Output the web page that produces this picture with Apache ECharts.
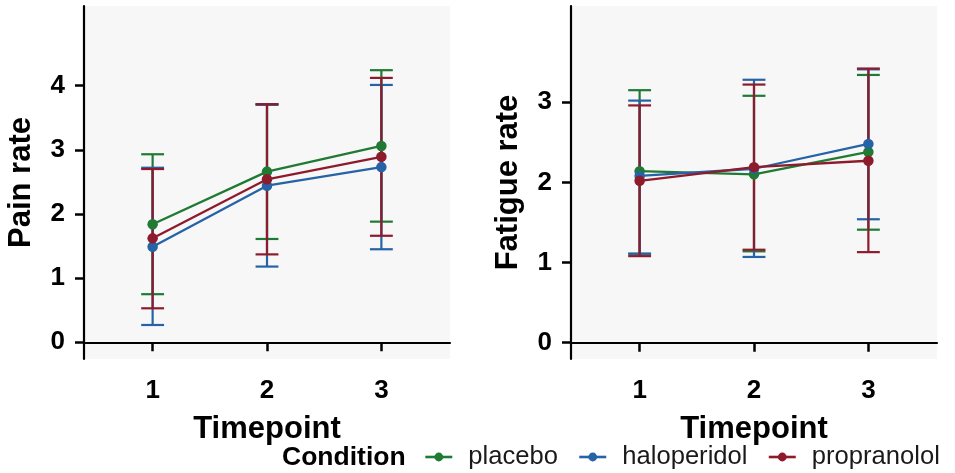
<!DOCTYPE html>
<html>
<head>
<meta charset="utf-8">
<style>
  html, body { margin: 0; padding: 0; background: #ffffff; }
  #chart { width: 955px; height: 473px; }
</style>
<script src="https://cdn.jsdelivr.net/npm/echarts@6/dist/echarts.min.js"></script>
</head>
<body>
<div id="chart"></div>
<script>
// Timepoints shared by both panels
const timepoints = [1, 2, 3];
const conditions = ['placebo', 'haloperidol', 'propranolol'];

// Pain rate: means and error bar ends per condition
const painPlaceboMean = [1.84, 2.66, 3.06];
const painPlaceboLow  = [0.75, 1.61, 1.88];
const painPlaceboHigh = [2.93, 3.71, 4.24];
const painHaloMean = [1.49, 2.44, 2.73];
const painHaloLow  = [0.27, 1.18, 1.45];
const painHaloHigh = [2.72, 3.70, 4.01];
const painPropMean = [1.62, 2.54, 2.89];
const painPropLow  = [0.53, 1.37, 1.66];
const painPropHigh = [2.70, 3.71, 4.12];

// Fatigue rate: means and error bar ends per condition
const fatPlaceboMean = [2.14, 2.10, 2.38];
const fatPlaceboLow  = [1.11, 1.14, 1.41];
const fatPlaceboHigh = [3.15, 3.08, 3.34];
const fatHaloMean = [2.08, 2.17, 2.48];
const fatHaloLow  = [1.11, 1.07, 1.54];
const fatHaloHigh = [3.02, 3.28, 3.41];
const fatPropMean = [2.02, 2.19, 2.27];
const fatPropLow  = [1.08, 1.16, 1.13];
const fatPropHigh = [2.96, 3.22, 3.42];

// Tick labels
const xTicks = [1, 2, 3];
const painTicks = [0, 1, 2, 3, 4];
const fatigueTicks = [0, 1, 2, 3];

const colors = { placebo: '#1f7a33', haloperidol: '#2563a6', propranolol: '#8e1b2c' };
const FONT = "'Liberation Sans', Arial, Helvetica, sans-serif";

const panels = [
  {
    means: [painPlaceboMean, painHaloMean, painPropMean],
    lows: [painPlaceboLow, painHaloLow, painPropLow],
    highs: [painPlaceboHigh, painHaloHigh, painPropHigh]
  },
  {
    means: [fatPlaceboMean, fatHaloMean, fatPropMean],
    lows: [fatPlaceboLow, fatHaloLow, fatPropLow],
    highs: [fatPlaceboHigh, fatHaloHigh, fatPropHigh]
  }
];

const CAP = 0.1; // half width of the error bar caps, in x units

function errorBarItem(params, api) {
  const x = api.value(0), lo = api.value(1), hi = api.value(2);
  const pLo = api.coord([x, lo]);
  const pHi = api.coord([x, hi]);
  const xl = api.coord([x - CAP, lo])[0];
  const xr = api.coord([x + CAP, lo])[0];
  const style = { stroke: api.visual('color'), lineWidth: 2.2, fill: null };
  return {
    type: 'group',
    children: [
      { type: 'line', shape: { x1: pLo[0], y1: pLo[1], x2: pHi[0], y2: pHi[1] }, style },
      { type: 'line', shape: { x1: xl, y1: pHi[1], x2: xr, y2: pHi[1] }, style },
      { type: 'line', shape: { x1: xl, y1: pLo[1], x2: xr, y2: pLo[1] }, style }
    ]
  };
}

// Mean lines come first so the legend takes its line-and-dot icon from them
const series = [];
panels.forEach((panel, pi) => {
  conditions.forEach((name, ci) => {
    series.push({
      type: 'line',
      name: name,
      xAxisIndex: pi,
      yAxisIndex: pi,
      data: timepoints.map((t, i) => [t, panel.means[ci][i]]),
      symbol: 'circle',
      symbolSize: 10.5,
      showSymbol: true,
      lineStyle: { width: 2.3, color: colors[name] },
      itemStyle: { color: colors[name] },
      z: 3
    });
  });
});
panels.forEach((panel, pi) => {
  conditions.forEach((name, ci) => {
    series.push({
      type: 'custom',
      name: name,
      xAxisIndex: pi,
      yAxisIndex: pi,
      renderItem: errorBarItem,
      itemStyle: { color: colors[name] },
      data: timepoints.map((t, i) => [t, panel.lows[ci][i], panel.highs[ci][i]]),
      z: 2,
      silent: true
    });
  });
});

function xAxis(gridIndex) {
  return {
    type: 'value',
    gridIndex,
    min: 0.4,
    max: 3.6,
    name: 'Timepoint',
    nameLocation: 'middle',
    nameGap: 55,
    nameTextStyle: { fontFamily: FONT, fontWeight: 'bold', fontSize: 31, color: '#000' },
    axisLine: { show: true, lineStyle: { color: '#000', width: 2.2 } },
    axisTick: { show: true, customValues: xTicks, length: 9, lineStyle: { color: '#000', width: 2.5 } },
    axisLabel: { customValues: xTicks, margin: 19, fontFamily: FONT, fontWeight: 'bold', fontSize: 26, color: '#000' },
    splitLine: { show: false }
  };
}

function yAxis(gridIndex, min, max, ticks, title) {
  return {
    type: 'value',
    gridIndex,
    min,
    max,
    name: title,
    nameLocation: 'middle',
    nameGap: 47,
    nameTextStyle: { fontFamily: FONT, fontWeight: 'bold', fontSize: 31, color: '#000' },
    axisLine: { show: true, lineStyle: { color: '#000', width: 2.2 } },
    axisTick: { show: true, customValues: ticks, length: 9, lineStyle: { color: '#000', width: 2.5 } },
    axisLabel: { customValues: ticks, margin: 19, fontFamily: FONT, fontWeight: 'bold', fontSize: 26, color: '#000' },
    splitLine: { show: false }
  };
}

const chart = echarts.init(document.getElementById('chart'), null, { renderer: 'canvas' });
chart.setOption({
  animation: false,
  backgroundColor: '#ffffff',
  grid: [
    { left: 84, top: 6, width: 366, height: 353, show: true, backgroundColor: '#f7f7f7', borderWidth: 0 },
    { left: 571, top: 6, width: 366, height: 353, show: true, backgroundColor: '#f7f7f7', borderWidth: 0 }
  ],
  xAxis: [xAxis(0), xAxis(1)],
  yAxis: [
    yAxis(0, -0.26, 5.24, painTicks, 'Pain rate'),
    yAxis(1, -0.203, 4.2, fatigueTicks, 'Fatigue rate')
  ],
  legend: {
    data: conditions,
    left: 424,
    top: 444,
    padding: 0,
    itemWidth: 27,
    itemHeight: 11,
    itemGap: 20,
    lineStyle: { width: 2.6 },
    textStyle: { fontFamily: FONT, fontSize: 25.6, color: '#1a1a1a', padding: [0, 0, 0, 11] }
  },
  graphic: [
    {
      type: 'text',
      x: 282,
      y: 458,
      style: { text: 'Condition', font: "bold 26.5px 'Liberation Sans', Arial, sans-serif", fill: '#000', verticalAlign: 'middle' }
    }
  ],
  series
});
</script>
</body>
</html>
